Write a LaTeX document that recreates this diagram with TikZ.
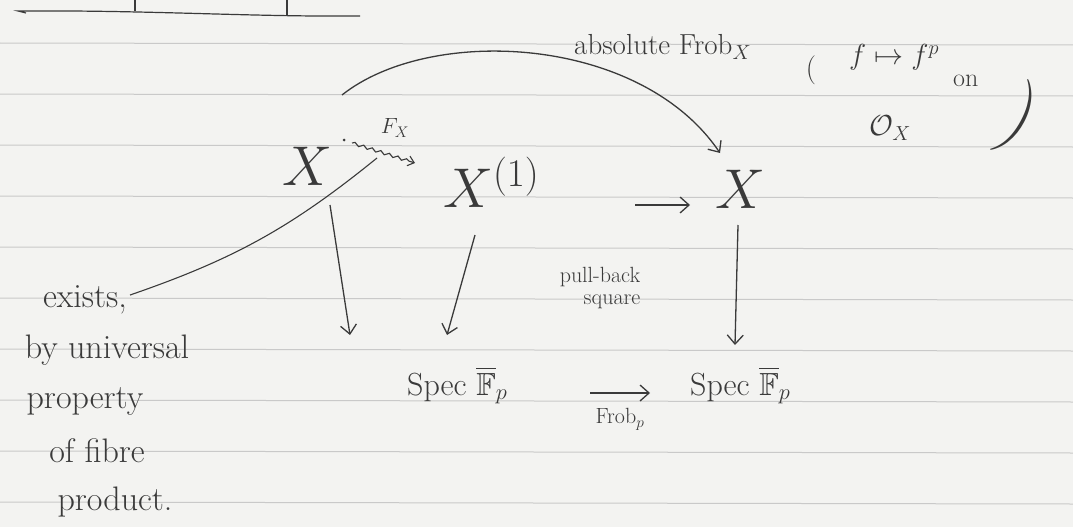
\RequirePackage{fix-cm}
\documentclass[tikz,border=0pt]{standalone}
\usepackage{amsmath,amssymb}
\usetikzlibrary{arrows.meta,decorations.pathmorphing,calc}
\definecolor{ink}{HTML}{3A3A3A}
\definecolor{paper}{HTML}{F3F3F1}
\definecolor{ruleline}{HTML}{C9C9C9}
\begin{document}
\begin{tikzpicture}[x=1pt,y=-1pt,
  inkline/.style={draw=ink, line width=1.3pt},
  arr/.style={inkline, -{Straight Barb[length=9pt,width=16pt,line width=1.3pt]}},
  bigobj/.style={text=ink, inner sep=2pt, font=\fontsize{56}{60}\selectfont},
  specobj/.style={text=ink, inner sep=2pt, font=\fontsize{32}{36}\selectfont},
  lab/.style={text=ink, inner sep=1pt, font=\fontsize{29}{33}\selectfont},
  smalllab/.style={text=ink, inner sep=1pt, font=\fontsize{22}{26}\selectfont},
  note/.style={text=ink, inner sep=1pt, font=\fontsize{34}{38}\selectfont},
  ]
\fill[paper] (0,0) rectangle (1073,527);
\useasboundingbox (0,0) rectangle (1073,527);
\foreach \y in {43,94,145,196,247,298,349,400,451,502}
  \draw[ruleline, line width=1pt] (0,\y) -- (1073,\y+2);

% fragment of a table at the top left
\draw[inkline, line width=1.2pt] (26,13) -- (18,11) .. controls (150,10) and (250,17) .. (360,16);
\draw[inkline, line width=1.2pt] (135,0) -- (135,11);
\draw[inkline, line width=1.2pt] (287,0) -- (287,16);

% objects
\node[bigobj, anchor=base west] (X1) at (280,185) {$X$};
\node[bigobj, anchor=base west] (X2) at (441,207) {$X^{(1)}$};
\node[bigobj, anchor=base west] (X3) at (713,208) {$X$};
\node[specobj, anchor=base west] (S1) at (405,395) {Spec $\overline{\mathbb{F}}_p$};
\node[specobj, anchor=base west] (S2) at (688,395) {Spec $\overline{\mathbb{F}}_p$};

% arrows
\draw[arr] ($(X1.base west)+(50,20)$) -- ($(S1.base west)+(-55,-60)$);
\draw[arr] ($(X2.base west)+(34,28)$) -- ($(S1.base west)+(42,-60)$);
\draw[arr] ($(X3.base west)+(25,17)$) -- ($(S2.base west)+(47,-50)$);
\draw[arr] ($(X2.base west)+(194,-2)$) -- ($(X3.base west)+(-23,-3)$);
\draw[arr] ($(S1.base west)+(185,-2)$) -- ($(S2.base west)+(-38,-2)$)
  node[smalllab, midway, below=14pt] (frobp) {Frob$_p$};
\draw[arr] ($(X1.base west)+(62,-90)$) .. controls (430,25) and (640,35) .. ($(X3.base west)+(7,-55)$);

% wavy F_X
\fill[ink] ($(X1.base west)+(64,-45)$) circle (1.5pt);
\draw[inkline, line width=1.1pt, -{Straight Barb[length=6pt,width=10pt]},
  decorate, decoration={snake, amplitude=1.5pt, segment length=9pt, post length=5pt}]
  ($(X1.base west)+(72,-42)$) -- ($(X2.base west)+(-26,-44)$);
\node[smalllab] (FX) at (395,128) {$F_X$};

% label of the curved arrow
\node[lab, anchor=base west] (abs) at (573,55) {absolute Frob$_X$};
\node[lab] (lp) at (811,70) {(};
\node[lab, anchor=base west] (fmap) at (848,65) {$f\mapsto f^p$};
\node[smalllab, font=\fontsize{26}{30}\selectfont, anchor=base west] (on) at (952,86) {on};
\node[lab] (OX) at (890,128) {$\mathcal{O}_X$};
\node[text=ink, inner sep=0pt, rotate=-28, font=\fontsize{80}{80}\selectfont] (rp) at (1018,120) {)};

% pull-back square
\node[smalllab] (pb1) at (600,277) {pull-back};
\node[smalllab] (pb2) at (612,302) {square};

% note on the left
\node[note] (E1) at (85,300) {exists,};
\node[note] (E2) at (107,350) {by universal};
\node[note] (E3) at (85,401) {property};
\node[note] (E4) at (97,451) {of fibre};
\node[note] (E5) at (115,502) {product.};
\coordinate (fxpt) at (377,158);
\draw[inkline, line width=1.1pt] ($(E1.east)+(2,-5)$) to[bend right=10] (fxpt);
\end{tikzpicture}
\end{document}
